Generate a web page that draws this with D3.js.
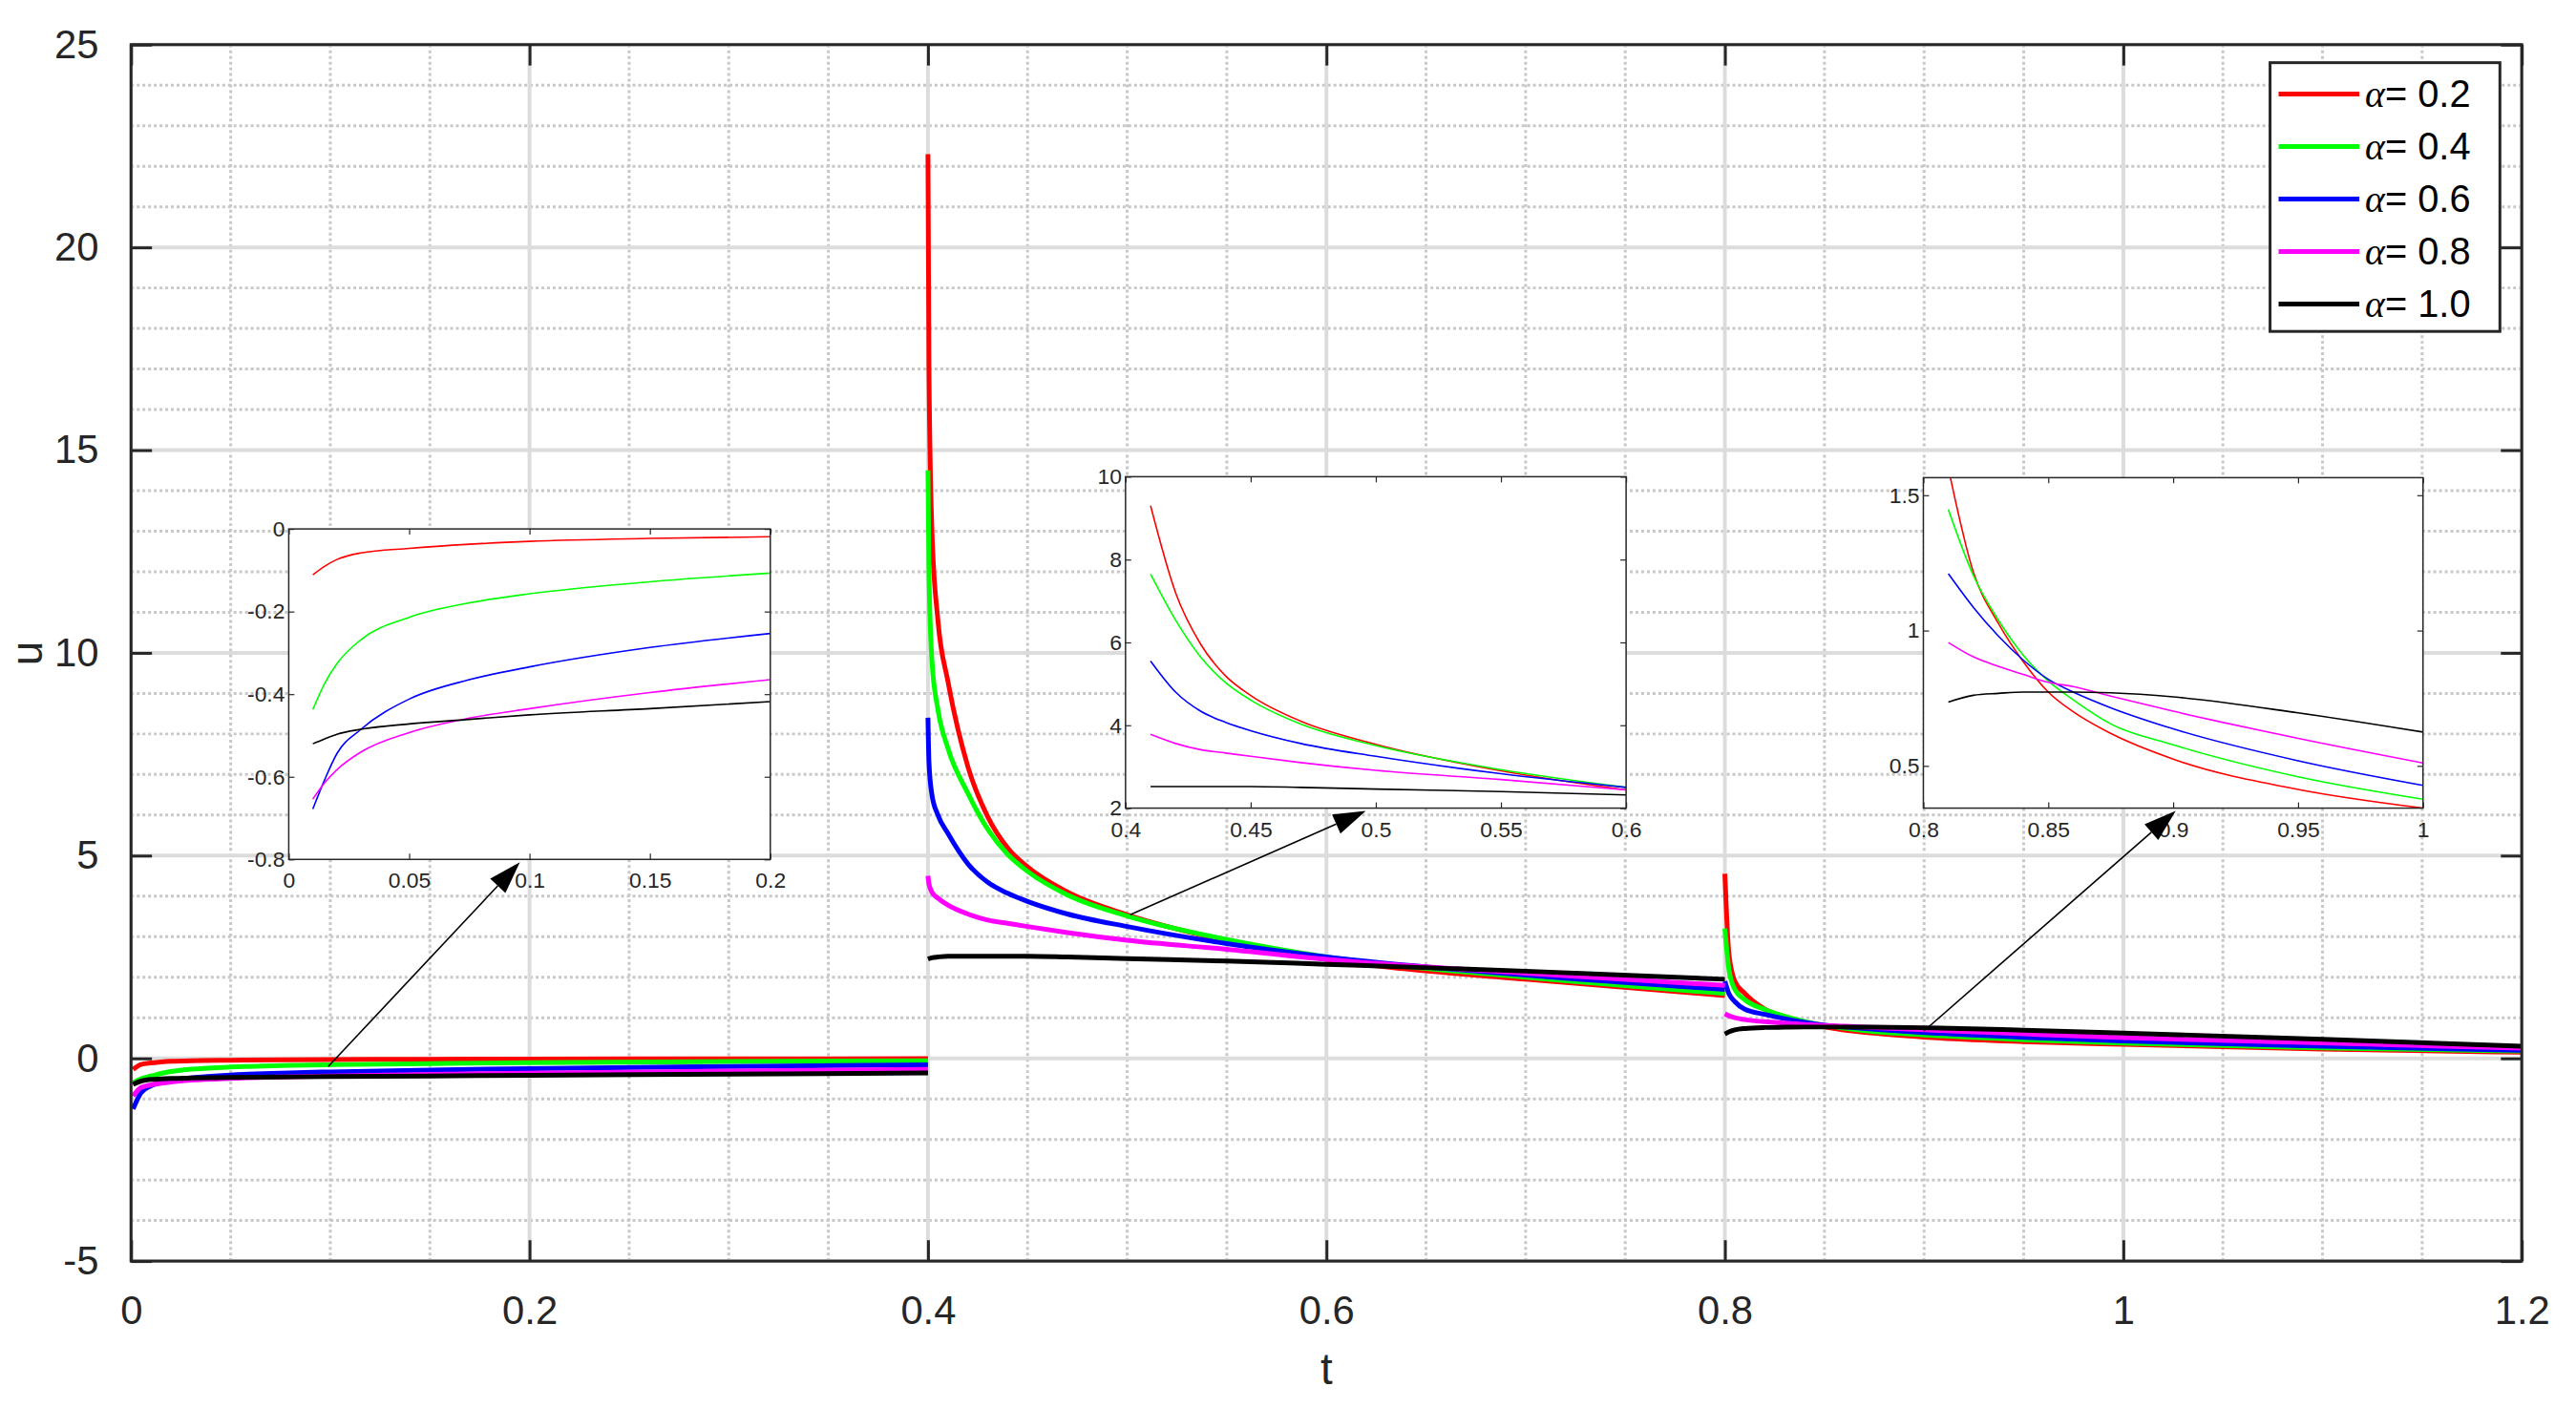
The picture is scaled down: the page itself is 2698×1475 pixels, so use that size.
<!DOCTYPE html>
<html><head><meta charset="utf-8">
<script src="https://cdn.jsdelivr.net/npm/d3@7"></script>
<style>body{margin:0;background:#fff}svg{display:block}</style>
</head><body><svg id="c" width="2698" height="1475"></svg>
<script>
const alphas = ["0.2","0.4","0.6","0.8","1.0"];
const colors = ["#ff0000","#00ff00","#0000ff","#ff00ff","#000000"];
const xTicks = [0,0.2,0.4,0.6,0.8,1,1.2];
const yTicks = [-5,0,5,10,15,20,25];

const t1 = [0.001,0.005,0.01,0.015,0.02,0.03,0.05,0.075,0.1,0.15,0.2,0.3,0.4];
const seg1 = [
 [-0.27,-0.15,-0.111,-0.09,-0.074,-0.058,-0.047,-0.037,-0.030,-0.023,-0.019,-0.012,-0.008],
 [-0.6,-0.5,-0.437,-0.373,-0.326,-0.268,-0.214,-0.179,-0.157,-0.128,-0.107,-0.08,-0.06],
 [-1.25,-0.85,-0.678,-0.606,-0.544,-0.485,-0.412,-0.365,-0.334,-0.287,-0.253,-0.2,-0.16],
 [-0.93,-0.72,-0.654,-0.614,-0.583,-0.540,-0.493,-0.458,-0.435,-0.396,-0.365,-0.31,-0.27],
 [-0.64,-0.56,-0.520,-0.508,-0.497,-0.485,-0.472,-0.461,-0.450,-0.435,-0.418,-0.39,-0.36]];
const t2 = [0.4,0.4005,0.402,0.405,0.41,0.42,0.43,0.44,0.45,0.47,0.5,0.55,0.6,0.7,0.8];
const seg2 = [
 [22.3,17,13,10.8,9.3,7.2,5.96,5.19,4.72,4.10,3.54,2.90,2.44,1.95,1.55],
 [14.5,12,9.8,8.6,7.65,6.54,5.65,5.03,4.61,4.03,3.51,2.93,2.50,2.0,1.6],
 [8.4,7.3,6.5,6.0,5.55,4.80,4.34,4.07,3.87,3.56,3.25,2.83,2.50,2.05,1.7],
 [4.5,4.3,4.1,3.95,3.78,3.56,3.41,3.33,3.25,3.1,2.91,2.69,2.44,2.1,1.8],
 [2.45,2.46,2.48,2.5,2.52,2.52,2.52,2.52,2.52,2.5,2.46,2.40,2.32,2.15,1.95]];
const t3 = [0.8,0.802,0.805,0.81,0.82,0.83,0.84,0.85,0.86,0.875,0.9,0.95,1.0,1.1,1.2];
const seg3 = [
 [4.55,2.6,1.9,1.6,1.216,1.027,0.885,0.773,0.70,0.62,0.525,0.413,0.344,0.23,0.15],
 [3.2,2.2,1.7,1.447,1.204,1.039,0.909,0.814,0.744,0.655,0.578,0.46,0.377,0.26,0.18],
 [1.9,1.6,1.4,1.21,1.086,0.98,0.891,0.82,0.773,0.715,0.637,0.519,0.428,0.3,0.2],
 [1.1,1.05,1.0,0.956,0.903,0.868,0.838,0.809,0.793,0.758,0.702,0.602,0.511,0.38,0.25],
 [0.6,0.65,0.7,0.736,0.761,0.768,0.773,0.773,0.773,0.77,0.755,0.696,0.625,0.47,0.3]];

const insetDefs = [
 {box:[304,557,811,905], x:[0,0.2], y:[-0.8,0], xt:[0,0.05,0.1,0.15,0.2], yt:[-0.8,-0.6,-0.4,-0.2,0], from:0.01, t:t1, seg:seg1, arrowTail:[0.099,-0.2], arrowX:0.096},
 {box:[1185,502,1712,851], x:[0.4,0.6], y:[2,10], xt:[0.4,0.45,0.5,0.55,0.6], yt:[2,4,6,8,10], from:0.41, t:t2, seg:seg2, arrowTail:[0.5015,3.54], arrowX:0.496},
 {box:[2025,503,2551,851], x:[0.8,1.0], y:[0.344,1.565], xt:[0.8,0.85,0.9,0.95,1], yt:[0.5,1,1.5], from:0.81, t:t3, seg:seg3, arrowTail:[0.8998,0.67], arrowX:0.901}
];

const svg = d3.select("#c").append("g").attr("transform","scale(0.9948)");
const L=138,R=2655,T=47,B=1328;
const x = d3.scaleLinear().domain([0,1.2]).range([L,R]);
const y = d3.scaleLinear().domain([-5,25]).range([B,T]);
const F = "'Liberation Sans', Arial, sans-serif";
const fmt = v => String(+v.toFixed(3));

const g = svg.append("g");
d3.range(0,1.2001,0.05).forEach(v=>{ if(Math.abs(v/0.2-Math.round(v/0.2))>1e-6)
  g.append("line").attr("x1",x(v)).attr("x2",x(v)).attr("y1",T).attr("y2",B).attr("stroke","#c8c8c8").attr("stroke-width",3).attr("stroke-dasharray","3,3");});
d3.range(-5,25.001,1).forEach(v=>{ if(v%5!==0)
  g.append("line").attr("y1",y(v)).attr("y2",y(v)).attr("x1",L).attr("x2",R).attr("stroke","#c8c8c8").attr("stroke-width",3).attr("stroke-dasharray","3,3");});
xTicks.forEach(v=>g.append("line").attr("x1",x(v)).attr("x2",x(v)).attr("y1",T).attr("y2",B).attr("stroke","#dcdcdc").attr("stroke-width",4));
yTicks.forEach(v=>g.append("line").attr("y1",y(v)).attr("y2",y(v)).attr("x1",L).attr("x2",R).attr("stroke","#dcdcdc").attr("stroke-width",4));

function segs(i){ return [[t1,seg1[i]],[t2,seg2[i]],[t3,seg3[i]]].map(([ts,vs])=>ts.map((t,k)=>[t,vs[k]])); }
const line = d3.line().x(d=>x(d[0])).y(d=>y(d[1])).curve(d3.curveMonotoneX);
alphas.forEach((a,i)=>segs(i).forEach(s=>svg.append("path").attr("d",line(s)).attr("fill","none").attr("stroke",colors[i]).attr("stroke-width",5)));

svg.append("rect").attr("x",L).attr("y",T).attr("width",R-L).attr("height",B-T).attr("fill","none").attr("stroke","#262626").attr("stroke-width",3);
svg.append("g").attr("transform",`translate(0,${B})`).call(d3.axisBottom(x).tickValues(xTicks).tickFormat(fmt).tickSizeInner(-22).tickSizeOuter(0).tickPadding(36))
  .call(s=>{s.select(".domain").remove();s.selectAll("line").attr("stroke","#262626").attr("stroke-width",3);s.selectAll("text").attr("font-family",F).attr("font-size",42).attr("fill","#262626");});
svg.append("g").attr("transform",`translate(0,${T})`).call(d3.axisTop(x).tickValues(xTicks).tickFormat("").tickSizeInner(-22).tickSizeOuter(0)).call(s=>{s.select(".domain").remove();s.selectAll("line").attr("stroke","#262626").attr("stroke-width",3);});
svg.append("g").attr("transform",`translate(${L},0)`).call(d3.axisLeft(y).tickValues(yTicks).tickFormat(fmt).tickSizeInner(-22).tickSizeOuter(0).tickPadding(34))
  .call(s=>{s.select(".domain").remove();s.selectAll("line").attr("stroke","#262626").attr("stroke-width",3);s.selectAll("text").attr("font-family",F).attr("font-size",42).attr("fill","#262626");});
svg.append("g").attr("transform",`translate(${R},0)`).call(d3.axisRight(y).tickValues(yTicks).tickFormat("").tickSizeInner(-22).tickSizeOuter(0)).call(s=>{s.select(".domain").remove();s.selectAll("line").attr("stroke","#262626").attr("stroke-width",3);});
svg.append("text").attr("x",(L+R)/2).attr("y",1458).attr("text-anchor","middle").attr("font-family",F).attr("font-size",46).attr("fill","#262626").text("t");
svg.append("text").attr("transform","translate(44,688) rotate(-90)").attr("text-anchor","middle").attr("font-family",F).attr("font-size",46).attr("fill","#262626").text("u");

svg.append("defs");
insetDefs.forEach((d,k)=>{
  const [x0,y0,x1,y1]=d.box;
  const ix=d3.scaleLinear().domain(d.x).range([x0,x1]);
  const iy=d3.scaleLinear().domain(d.y).range([y1,y0]);
  svg.select("defs").append("clipPath").attr("id","cl"+k).append("rect").attr("x",x0).attr("y",y0).attr("width",x1-x0).attr("height",y1-y0);
  svg.append("rect").attr("x",x0).attr("y",y0).attr("width",x1-x0).attr("height",y1-y0).attr("fill","#fff");
  const il=d3.line().x(p=>ix(p[0])).y(p=>iy(p[1])).curve(d3.curveMonotoneX);
  const gi=svg.append("g").attr("clip-path",`url(#cl${k})`);
  d.seg.forEach((vs,i)=>{
    const pts=d.t.map((t,j)=>[t,vs[j]]).filter(p=>p[0]>=d.from-1e-9&&p[0]<=d.x[1]+1e-9);
    gi.append("path").attr("d",il(pts)).attr("fill","none").attr("stroke",colors[i]).attr("stroke-width",1.6);
  });
  svg.append("rect").attr("x",x0).attr("y",y0).attr("width",x1-x0).attr("height",y1-y0).attr("fill","none").attr("stroke","#262626").attr("stroke-width",1.5);
  const st=s=>{s.select(".domain").remove();s.selectAll("line").attr("stroke","#262626").attr("stroke-width",1.2);s.selectAll("text").attr("font-family",F).attr("font-size",23).attr("fill","#262626");};
  svg.append("g").attr("transform",`translate(0,${y1})`).call(d3.axisBottom(ix).tickValues(d.xt).tickFormat(fmt).tickSizeInner(-6).tickSizeOuter(0).tickPadding(14)).call(st);
  svg.append("g").attr("transform",`translate(0,${y0})`).call(d3.axisTop(ix).tickValues(d.xt).tickFormat("").tickSizeInner(-6).tickSizeOuter(0)).call(st);
  svg.append("g").attr("transform",`translate(${x0},0)`).call(d3.axisLeft(iy).tickValues(d.yt).tickFormat(fmt).tickSizeInner(-6).tickSizeOuter(0).tickPadding(4)).call(st);
  svg.append("g").attr("transform",`translate(${x1},0)`).call(d3.axisRight(iy).tickValues(d.yt).tickFormat("").tickSizeInner(-6).tickSizeOuter(0)).call(st);
  const tx=x(d.arrowTail[0]), ty=y(d.arrowTail[1]), hx=ix(d.arrowX), hy=y1+3;
  const ang=Math.atan2(hy-ty,hx-tx), len=34, w=11;
  const bx=hx-len*Math.cos(ang), by=hy-len*Math.sin(ang);
  svg.append("line").attr("x1",tx).attr("y1",ty).attr("x2",bx).attr("y2",by).attr("stroke","#000").attr("stroke-width",1.6);
  svg.append("path").attr("d",`M${hx},${hy}L${bx+w*Math.sin(ang)},${by-w*Math.cos(ang)}L${bx-w*Math.sin(ang)},${by+w*Math.cos(ang)}Z`).attr("fill","#000");
});

const lg=svg.append("g");
lg.append("rect").attr("x",2390).attr("y",66).attr("width",242).attr("height",283).attr("fill","#fff").attr("stroke","#262626").attr("stroke-width",3);
alphas.forEach((a,i)=>{
  const yy=99+i*55.3;
  lg.append("line").attr("x1",2399).attr("x2",2484).attr("y1",yy).attr("y2",yy).attr("stroke",colors[i]).attr("stroke-width",5);
  const tx=lg.append("text").attr("x",2490).attr("y",yy+14).attr("font-family",F).attr("font-size",40).attr("fill","#000");
  tx.append("tspan").attr("font-family","'Liberation Serif', serif").attr("font-style","italic").text("α");
  tx.append("tspan").text("= "+a);
});
</script></body></html>
